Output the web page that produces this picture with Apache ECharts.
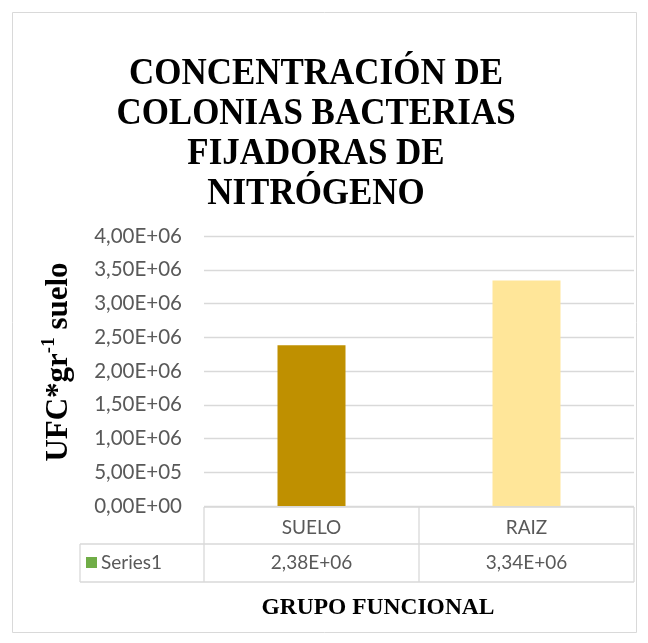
<!DOCTYPE html>
<html>
<head>
<meta charset="utf-8">
<script src="https://cdn.jsdelivr.net/npm/echarts@6/dist/echarts.min.js"></script>
<style>
  html, body { margin: 0; padding: 0; background: #fff; }
  #main { width: 648px; height: 643px; }
</style>
</head>
<body>
<div id="main"></div>
<script>
// data
const categories = ['SUELO', 'RAIZ'];
const values = [2.38e6, 3.34e6];
const barColors = ['#bf9000', '#ffe699'];
const seriesName = 'Series1';
const titleLines = ['CONCENTRACIÓN DE', 'COLONIAS BACTERIAS', 'FIJADORAS DE', 'NITRÓGENO'];
const xTitle = 'GRUPO FUNCIONAL';
const yMin = 0, yMax = 4e6, yStep = 5e5;

// 4000000 -> "4,00E+06"
const sci = (v) => {
  if (v === 0) return '0,00E+00';
  let e = Math.floor(Math.log10(Math.abs(v)));
  let m = v / Math.pow(10, e);
  if (Math.round(m * 100) >= 1000) { m = m / 10; e += 1; }
  const sign = e < 0 ? '-' : '+';
  const ee = String(Math.abs(e)).padStart(2, '0');
  return m.toFixed(2).replace('.', ',') + 'E' + sign + ee;
};

const serif = '"Liberation Serif", "DejaVu Serif", serif';
const sans = 'Lato, "Open Sans", sans-serif';
const gray = '#595959';
const lineCol = '#d9d9d9';

const chart = echarts.init(document.getElementById('main'));

const gridL = 204, gridR = 634, gridT = 236, gridB = 506;
const row1 = 544, row2 = 582, tableLeft = 80;

const option = {
  animation: false,
  backgroundColor: '#fff',
  grid: { left: gridL, right: 648 - gridR, top: gridT, bottom: 643 - gridB },
  xAxis: {
    type: 'category',
    data: categories,
    axisLine: { show: false },
    axisTick: { show: false },
    axisLabel: { margin: 12, fontFamily: sans, fontSize: 19, color: gray }
  },
  yAxis: {
    type: 'value',
    min: yMin, max: yMax, interval: yStep,
    axisLine: { show: false },
    axisTick: { show: false },
    splitLine: { lineStyle: { color: lineCol, width: 1.3 } },
    axisLabel: { margin: 22, fontFamily: sans, fontSize: 20.5, color: gray, formatter: sci }
  },
  series: [{
    name: seriesName,
    type: 'bar',
    barWidth: 68,
    data: values.map((v, i) => ({ value: v, itemStyle: { color: barColors[i] } }))
  }]
};
chart.setOption(option);

const g = [];
const ln = (x1, y1, x2, y2) => ({ type: 'line', shape: { x1, y1, x2, y2 }, style: { stroke: lineCol, lineWidth: 1.3 } });
g.push({ type: 'rect', shape: { x: 12.5, y: 12.5, width: 624, height: 620 }, style: { fill: null, stroke: lineCol, lineWidth: 1 } });

// title, a little condensed like the original
g.push({
  type: 'text', x: 316, y: 134, scaleX: 0.92,
  style: { text: titleLines.join('\n'), align: 'center', verticalAlign: 'middle',
    font: 'bold 38px ' + serif, lineHeight: 40, fill: '#000' }
});

// y axis title with superscript
g.push({
  type: 'text', x: 57, y: 362, rotation: Math.PI / 2,
  style: {
    text: '{m|UFC*gr}{s|-1}{m| suelo}', align: 'center', verticalAlign: 'middle',
    rich: {
      m: { fontFamily: serif, fontWeight: 'bold', fontSize: 31, fill: '#000', lineHeight: 34, verticalAlign: 'bottom' },
      s: { fontFamily: serif, fontWeight: 'bold', fontSize: 19, fill: '#000', lineHeight: 34, verticalAlign: 'top' }
    }
  }
});

// data table under the plot
g.push(ln(gridL, gridB + 1, gridR, gridB + 1));
g.push(ln(tableLeft, row1, gridR, row1));
g.push(ln(tableLeft, row2, gridR, row2));
g.push(ln(tableLeft, row1, tableLeft, row2));
g.push(ln(gridR, gridB + 1, gridR, row2));
g.push(ln(gridL, gridB + 1, gridL, row2));
for (let i = 0; i < categories.length - 1; i++) {
  const a = chart.convertToPixel({ xAxisIndex: 0 }, i);
  const b = chart.convertToPixel({ xAxisIndex: 0 }, i + 1);
  const x = (a + b) / 2;
  g.push(ln(x, gridB + 1, x, row2));
}
values.forEach((v, i) => {
  const cx = chart.convertToPixel({ xAxisIndex: 0 }, i);
  g.push({ type: 'text', x: cx, y: (row1 + row2) / 2, style: { text: sci(v), align: 'center', verticalAlign: 'middle', font: '19px ' + sans, fill: gray } });
});
g.push({ type: 'rect', shape: { x: 86, y: 557, width: 11, height: 11 }, style: { fill: '#70ad47' } });
g.push({ type: 'text', x: 101, y: (row1 + row2) / 2, style: { text: seriesName, align: 'left', verticalAlign: 'middle', font: '19px ' + sans, fill: gray } });
g.push({ type: 'text', x: 378, y: 608, style: { text: xTitle, align: 'center', verticalAlign: 'middle', font: 'bold 23.5px ' + serif, fill: '#000' } });
chart.setOption({ graphic: g });
</script>
</body>
</html>
